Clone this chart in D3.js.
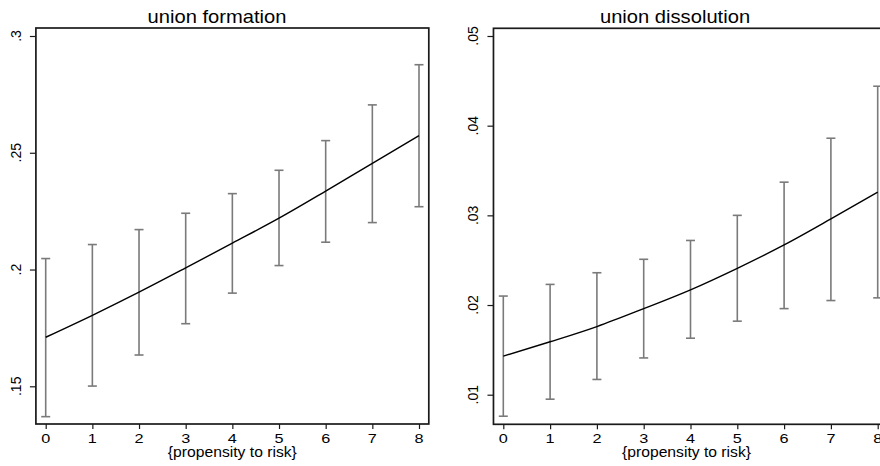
<!DOCTYPE html>
<html>
<head>
<meta charset="utf-8">
<script src="https://cdn.jsdelivr.net/npm/d3@7"></script>
<style>
  html, body { margin: 0; padding: 0; background: #fff; }
  svg { display: block; }
  text { font-family: "Liberation Sans", Arial, Helvetica, sans-serif; fill: #000; }
</style>
</head>
<body>
<svg id="chart" width="880" height="466"></svg>
<script>
// ---- data ----
const xValues = [0, 1, 2, 3, 4, 5, 6, 7, 8];
const xTickLabels = ["0", "1", "2", "3", "4", "5", "6", "7", "8"];
const xAxisTitle = "{propensity to risk}";

const formationTitle = "union formation";
const formationMid   = [0.1710, 0.1804, 0.1903, 0.2007, 0.2113, 0.2220, 0.2336, 0.2455, 0.2573];
const formationLow   = [0.1370, 0.1501, 0.1634, 0.1768, 0.1899, 0.2017, 0.2117, 0.2201, 0.2269];
const formationHigh  = [0.2047, 0.2107, 0.2171, 0.2241, 0.2325, 0.2425, 0.2552, 0.2705, 0.2877];
const formationTicks = [0.15, 0.2, 0.25, 0.3];
const formationTickLabels = [".15", ".2", ".25", ".3"];

const dissolutionTitle = "union dissolution";
const dissolutionMid   = [0.0143, 0.0159, 0.0176, 0.0196, 0.0217, 0.0241, 0.0267, 0.0296, 0.0326];
const dissolutionLow   = [0.0076, 0.0095, 0.0117, 0.0141, 0.0163, 0.0182, 0.0196, 0.0205, 0.0208];
const dissolutionHigh  = [0.0210, 0.0223, 0.0236, 0.0251, 0.0272, 0.0300, 0.0337, 0.0386, 0.0444];
const dissolutionTicks = [0.01, 0.02, 0.03, 0.04, 0.05];
const dissolutionTickLabels = [".01", ".02", ".03", ".04", ".05"];

// ---- drawing ----
const svg = d3.select("#chart");
const SX = 1.12; // horizontal text stretch seen in the reference

function panel(cfg) {
  const g = svg.append("g");
  const x = d3.scaleLinear().domain([0, 8]).range(cfg.xRange);
  const y = d3.scaleLinear().domain(cfg.yDomain).range(cfg.yRange);
  const pad = 0.21;
  const fx0 = x(-pad), fx1 = x(8 + pad);
  const fy0 = cfg.frameTop, fy1 = cfg.frameBottom;

  // error bars
  const eb = g.append("g").attr("stroke", "#7a7a7a").attr("stroke-width", 1.6).attr("fill", "none");
  const capW = 4.5;
  xValues.forEach((xv, i) => {
    const cx = x(xv);
    eb.append("line").attr("x1", cx).attr("x2", cx).attr("y1", y(cfg.low[i])).attr("y2", y(cfg.high[i]));
    eb.append("line").attr("x1", cx - capW).attr("x2", cx + capW).attr("y1", y(cfg.low[i])).attr("y2", y(cfg.low[i]));
    eb.append("line").attr("x1", cx - capW).attr("x2", cx + capW).attr("y1", y(cfg.high[i])).attr("y2", y(cfg.high[i]));
  });

  // fitted curve
  const line = d3.line().x((d, i) => x(xValues[i])).y(d => y(d)).curve(d3.curveMonotoneX);
  g.append("path").datum(cfg.mid).attr("d", line)
    .attr("fill", "none").attr("stroke", "#000").attr("stroke-width", 1.4);

  // frame
  g.append("rect").attr("x", fx0).attr("y", fy0).attr("width", fx1 - fx0).attr("height", fy1 - fy0)
    .attr("fill", "none").attr("stroke", "#1a1a1a").attr("stroke-width", 1.7);

  // x axis ticks
  const xa = g.append("g").attr("transform", `translate(0,${fy1})`)
    .call(d3.axisBottom(x).tickValues(xValues).tickSize(5).tickPadding(3)
      .tickFormat((d, i) => xTickLabels[i]));
  xa.select(".domain").remove();
  xa.selectAll(".tick line").attr("stroke", "#1a1a1a").attr("stroke-width", 1.2);
  xa.selectAll(".tick text").remove();
  xValues.forEach((xv, i) => {
    g.append("text").attr("transform", `translate(${x(xv)},${cfg.xLabelY}) scale(1.3,1)`)
      .attr("text-anchor", "middle").style("font-size", "12.5px").text(xTickLabels[i]);
  });

  // x axis title
  g.append("text").attr("transform", `translate(${(fx0 + fx1) / 2 - (cfg.titleShift || 0)},${cfg.xTitleY}) scale(${SX},1)`)
    .attr("text-anchor", "middle").style("font-size", "14px").text(xAxisTitle);

  // y axis ticks
  const ya = g.append("g").attr("transform", `translate(${fx0},0)`)
    .call(d3.axisLeft(y).tickValues(cfg.ticks).tickSize(6).tickFormat((d, i) => cfg.tickLabels[i]));
  ya.select(".domain").remove();
  ya.selectAll(".tick line").attr("stroke", "#1a1a1a").attr("stroke-width", 1.2);
  ya.selectAll(".tick text").remove();
  cfg.ticks.forEach((t, i) => {
    g.append("text").attr("transform", `translate(${fx0 - 15},${y(t)}) rotate(-90)`)
      .attr("text-anchor", "middle").style("font-size", "14px").text(cfg.tickLabels[i]);
  });

  // title
  g.append("text").attr("transform", `translate(${cfg.titleX},${cfg.titleY}) scale(${SX},1)`)
    .attr("text-anchor", "middle").style("font-size", "18px").text(cfg.title);
}

panel({
  title: formationTitle, titleX: 217, titleY: 23,
  xRange: [45.7, 419], yDomain: [0.15, 0.3], yRange: [386.3, 36],
  frameTop: 28, frameBottom: 424,
  low: formationLow, mid: formationMid, high: formationHigh,
  ticks: formationTicks, tickLabels: formationTickLabels,
  xLabelY: 443, xTitleY: 457
});

panel({
  title: dissolutionTitle, titleX: 675, titleY: 23,
  xRange: [503.3, 877.7], yDomain: [0.01, 0.05], yRange: [394.7, 36],
  frameTop: 28.3, frameBottom: 424.3,
  low: dissolutionLow, mid: dissolutionMid, high: dissolutionHigh,
  ticks: dissolutionTicks, tickLabels: dissolutionTickLabels,
  xLabelY: 443, xTitleY: 457, titleShift: 4
});
</script>
</body>
</html>
